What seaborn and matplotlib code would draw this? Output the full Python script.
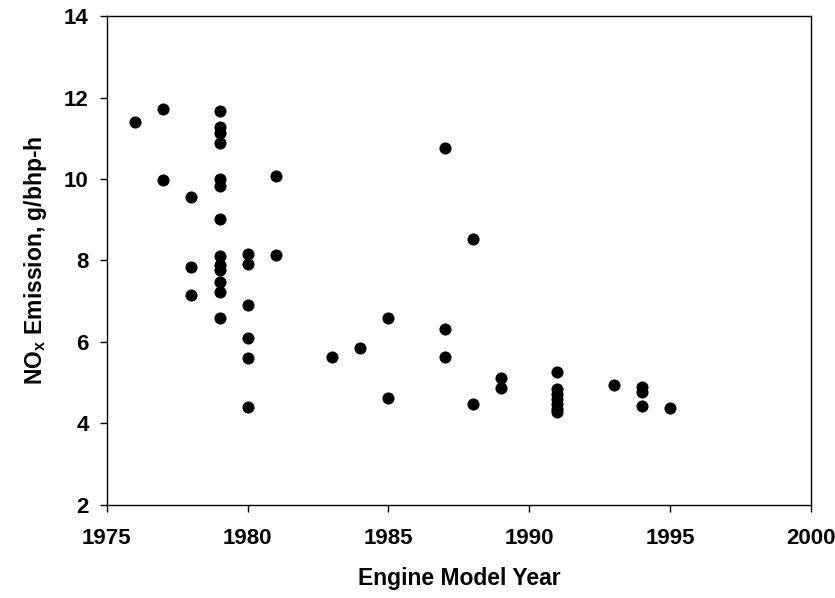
import numpy as np
import pandas as pd
import seaborn as sns
import matplotlib.pyplot as plt

# engine model year and NOx emission (g/bhp-h)
years = [1976,
         1977, 1977,
         1978, 1978, 1978,
         1979, 1979, 1979, 1979, 1979, 1979, 1979, 1979, 1979, 1979, 1979, 1979, 1979,
         1980, 1980, 1980, 1980, 1980, 1980,
         1981, 1981,
         1983, 1984,
         1985, 1985,
         1987, 1987, 1987,
         1988, 1988,
         1989, 1989,
         1991, 1991, 1991, 1991, 1991, 1991, 1991,
         1993,
         1994, 1994, 1994,
         1995]
nox = [11.40,
       11.72, 9.97,
       9.56, 7.83, 7.15,
       11.67, 11.28, 11.14, 10.88, 10.00, 9.83, 9.01, 8.12, 7.89, 7.77, 7.48, 7.23, 6.58,
       8.16, 7.91, 6.91, 6.09, 5.60, 4.41,
       10.07, 8.14,
       5.62, 5.84,
       6.58, 4.62,
       10.76, 6.32, 5.64,
       8.53, 4.47,
       5.12, 4.86,
       5.26, 4.83, 4.72, 4.60, 4.47, 4.35, 4.27,
       4.94,
       4.90, 4.78, 4.43,
       4.37]

x_ticks = [1975, 1980, 1985, 1990, 1995, 2000]
y_ticks = [2, 4, 6, 8, 10, 12, 14]

df = pd.DataFrame({'year': years, 'nox': nox})

sns.set_style('ticks')
plt.rcParams['font.family'] = ['Liberation Sans', 'DejaVu Sans']
plt.rcParams['font.weight'] = 'bold'
plt.rcParams['text.color'] = 'black'
plt.rcParams['axes.labelcolor'] = 'black'
plt.rcParams['xtick.color'] = 'black'
plt.rcParams['ytick.color'] = 'black'
plt.rcParams['mathtext.fontset'] = 'custom'
plt.rcParams['mathtext.rm'] = 'Liberation Sans:bold'
plt.rcParams['mathtext.it'] = 'Liberation Sans:bold'
plt.rcParams['mathtext.bf'] = 'Liberation Sans:bold'
plt.rcParams['mathtext.default'] = 'regular'

fig = plt.figure(figsize=(8.35, 5.98), dpi=100)
ax = fig.add_axes([0.128, 0.156, 0.843, 0.817])

sns.scatterplot(data=df, x='year', y='nox', ax=ax,
                color='black', s=76, edgecolor='black', linewidth=0)

ax.set_xlim(1975, 2000)
ax.set_ylim(2, 14)
ax.set_xticks(x_ticks)
ax.set_yticks(y_ticks)
ax.tick_params(axis='both', direction='out', length=5, width=1,
               labelsize=16, colors='black')
ax.tick_params(axis='x', pad=12)
ax.tick_params(axis='y', pad=8)
for lbl in ax.get_xticklabels() + ax.get_yticklabels():
    lbl.set_fontweight('bold')

for s in ax.spines.values():
    s.set_visible(True)
    s.set_color('black')
    s.set_linewidth(1)

ax.set_xlabel('Engine Model Year', fontsize=16.5, fontweight='bold', labelpad=13)
ax.set_ylabel('NO$_{x}$ Emission, g/bhp-h', fontsize=16.5, fontweight='bold', labelpad=11)

fig.savefig('out.png', dpi=100)
plt.close(fig)
